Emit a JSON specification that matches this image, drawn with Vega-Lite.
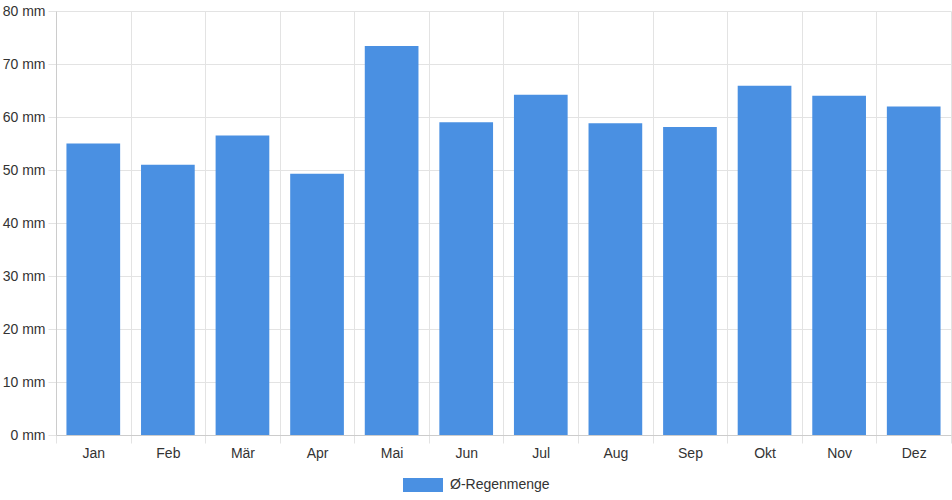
{
  "$schema": "https://vega.github.io/schema/vega-lite/v6.json",
  "autosize": "none",
  "width": 895,
  "height": 424,
  "padding": {"left": 56, "top": 11, "right": 1, "bottom": 65},
  "background": "white",
  "config": {
    "font": "Liberation Sans",
    "view": {"stroke": null}
  },
  "data": {
    "values": [
      {"monat": "Jan", "regen": 55.0, "serie": "Ø-Regenmenge"},
      {"monat": "Feb", "regen": 51.0, "serie": "Ø-Regenmenge"},
      {"monat": "Mär", "regen": 56.5, "serie": "Ø-Regenmenge"},
      {"monat": "Apr", "regen": 49.3, "serie": "Ø-Regenmenge"},
      {"monat": "Mai", "regen": 73.4, "serie": "Ø-Regenmenge"},
      {"monat": "Jun", "regen": 59.0, "serie": "Ø-Regenmenge"},
      {"monat": "Jul", "regen": 64.2, "serie": "Ø-Regenmenge"},
      {"monat": "Aug", "regen": 58.8, "serie": "Ø-Regenmenge"},
      {"monat": "Sep", "regen": 58.1, "serie": "Ø-Regenmenge"},
      {"monat": "Okt", "regen": 65.9, "serie": "Ø-Regenmenge"},
      {"monat": "Nov", "regen": 64.0, "serie": "Ø-Regenmenge"},
      {"monat": "Dez", "regen": 62.0, "serie": "Ø-Regenmenge"}
    ]
  },
  "mark": {"type": "bar", "color": "#4a90e2", "width": {"band": 0.72}},
  "encoding": {
    "x": {
      "field": "monat",
      "type": "nominal",
      "sort": null,
      "scale": {"paddingInner": 0, "paddingOuter": 0},
      "axis": {
        "title": null,
        "labelAngle": 0,
        "tickBand": "extent",
        "grid": true,
        "gridColor": "#e3e3e3",
        "tickColor": "#e3e3e3",
        "tickSize": 8,
        "domainColor": "#cccccc",
        "labelFontSize": 14,
        "labelColor": "#333333",
        "labelPadding": 3
      }
    },
    "y": {
      "field": "regen",
      "type": "quantitative",
      "scale": {"domain": [0, 80]},
      "axis": {
        "title": null,
        "values": [0, 10, 20, 30, 40, 50, 60, 70, 80],
        "labelExpr": "datum.value + ' mm'",
        "grid": true,
        "gridColor": "#e3e3e3",
        "tickColor": "#e3e3e3",
        "tickSize": 8,
        "domainColor": "#cccccc",
        "labelFontSize": 14,
        "labelColor": "#333333",
        "labelPadding": 3
      }
    },
    "color": {
      "field": "serie",
      "type": "nominal",
      "scale": {"range": ["#4a90e2"]},
      "legend": {
        "title": null,
        "orient": "none",
        "legendX": 347,
        "legendY": 454,
        "direction": "horizontal",
        "symbolType": "M-1,-0.35H1V0.35H-1Z",
        "symbolSize": 1600,
        "symbolStrokeWidth": 0,
        "symbolOpacity": 1,
        "labelFontSize": 14,
        "labelColor": "#333333",
        "labelOffset": 7
      }
    }
  }
}
